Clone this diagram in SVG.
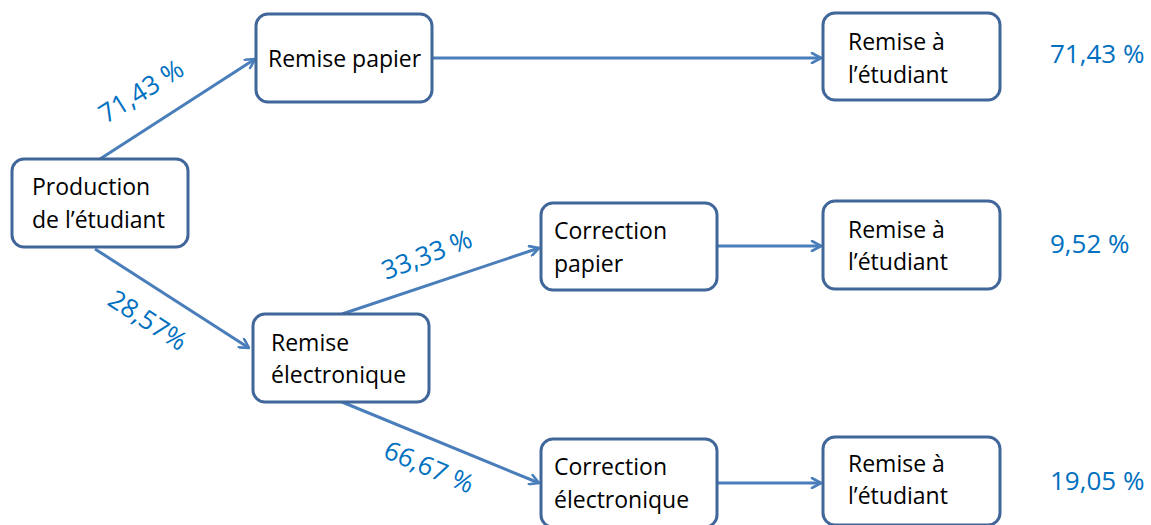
<svg xmlns="http://www.w3.org/2000/svg" width="1151" height="525" viewBox="0 0 1151 525">
<defs>
<marker id="arr" viewBox="0 0 12 12" refX="11" refY="6" markerWidth="12" markerHeight="12" markerUnits="userSpaceOnUse" orient="auto">
<path d="M2,1 L11,6 L2,11" fill="none" stroke="#4A7EBB" stroke-width="2.6" stroke-linecap="round" stroke-linejoin="round"/>
</marker>
</defs>
<style>
.box{fill:#fff;stroke:#41679A;stroke-width:3}
.t{font-family:"Open Sans","Liberation Sans",sans-serif;font-size:23px;fill:#000}
.p{font-family:"Open Sans","Liberation Sans",sans-serif;font-size:26px;fill:#0070C0}
.c{fill:none;stroke:#4A7EBB;stroke-width:3;marker-end:url(#arr)}
</style>
<rect width="1151" height="525" fill="#fff"/>
<g id="connectors">
<line class="c" x1="100" y1="159" x2="255" y2="59"/>
<line class="c" x1="95" y1="249" x2="249" y2="348"/>
<line class="c" x1="432" y1="58" x2="821" y2="58"/>
<line class="c" x1="342" y1="314" x2="539" y2="248"/>
<line class="c" x1="342" y1="402" x2="539" y2="483"/>
<line class="c" x1="717" y1="246" x2="821" y2="246"/>
<line class="c" x1="717" y1="483" x2="821" y2="483"/>
</g>
<g id="n_production"><rect class="box" x="12" y="159" width="176" height="88" rx="12"/><text class="t" x="32" y="195">Production</text><text class="t" x="32" y="228">de l’étudiant</text></g>
<g id="n_remise_papier"><rect class="box" x="256" y="14" width="176" height="88" rx="12"/><text class="t" x="268" y="67">Remise papier</text></g>
<g id="n_remise_elec"><rect class="box" x="253" y="314" width="176" height="88" rx="12"/><text class="t" x="271" y="351">Remise</text><text class="t" x="271" y="383">électronique</text></g>
<g id="n_corr_papier"><rect class="box" x="541" y="203" width="176" height="87" rx="12"/><text class="t" x="554" y="239">Correction</text><text class="t" x="554" y="272">papier</text></g>
<g id="n_corr_elec"><rect class="box" x="541" y="439" width="176" height="88" rx="12"/><text class="t" x="554" y="475">Correction</text><text class="t" x="554" y="508">électronique</text></g>
<g id="n_remise1"><rect class="box" x="823" y="13" width="177" height="87" rx="12"/><text class="t" x="848" y="50">Remise à</text><text class="t" x="848" y="83">l’étudiant</text></g>
<g id="n_remise2"><rect class="box" x="823" y="201" width="177" height="88" rx="12"/><text class="t" x="848" y="238">Remise à</text><text class="t" x="848" y="270">l’étudiant</text></g>
<g id="n_remise3"><rect class="box" x="823" y="437" width="177" height="88" rx="12"/><text class="t" x="848" y="472">Remise à</text><text class="t" x="848" y="504">l’étudiant</text></g>
<g id="labels">
<text class="p" transform="translate(106,124) rotate(-32)">71,43 %</text>
<text class="p" transform="translate(106,304) rotate(33)">28,57%</text>
<text class="p" transform="translate(386,280) rotate(-21)">33,33 %</text>
<text class="p" transform="translate(382,457) rotate(23)">66,67 %</text>
<text class="p" x="1050" y="63">71,43 %</text>
<text class="p" x="1050" y="253">9,52 %</text>
<text class="p" x="1050" y="490">19,05 %</text>
</g>
</svg>
